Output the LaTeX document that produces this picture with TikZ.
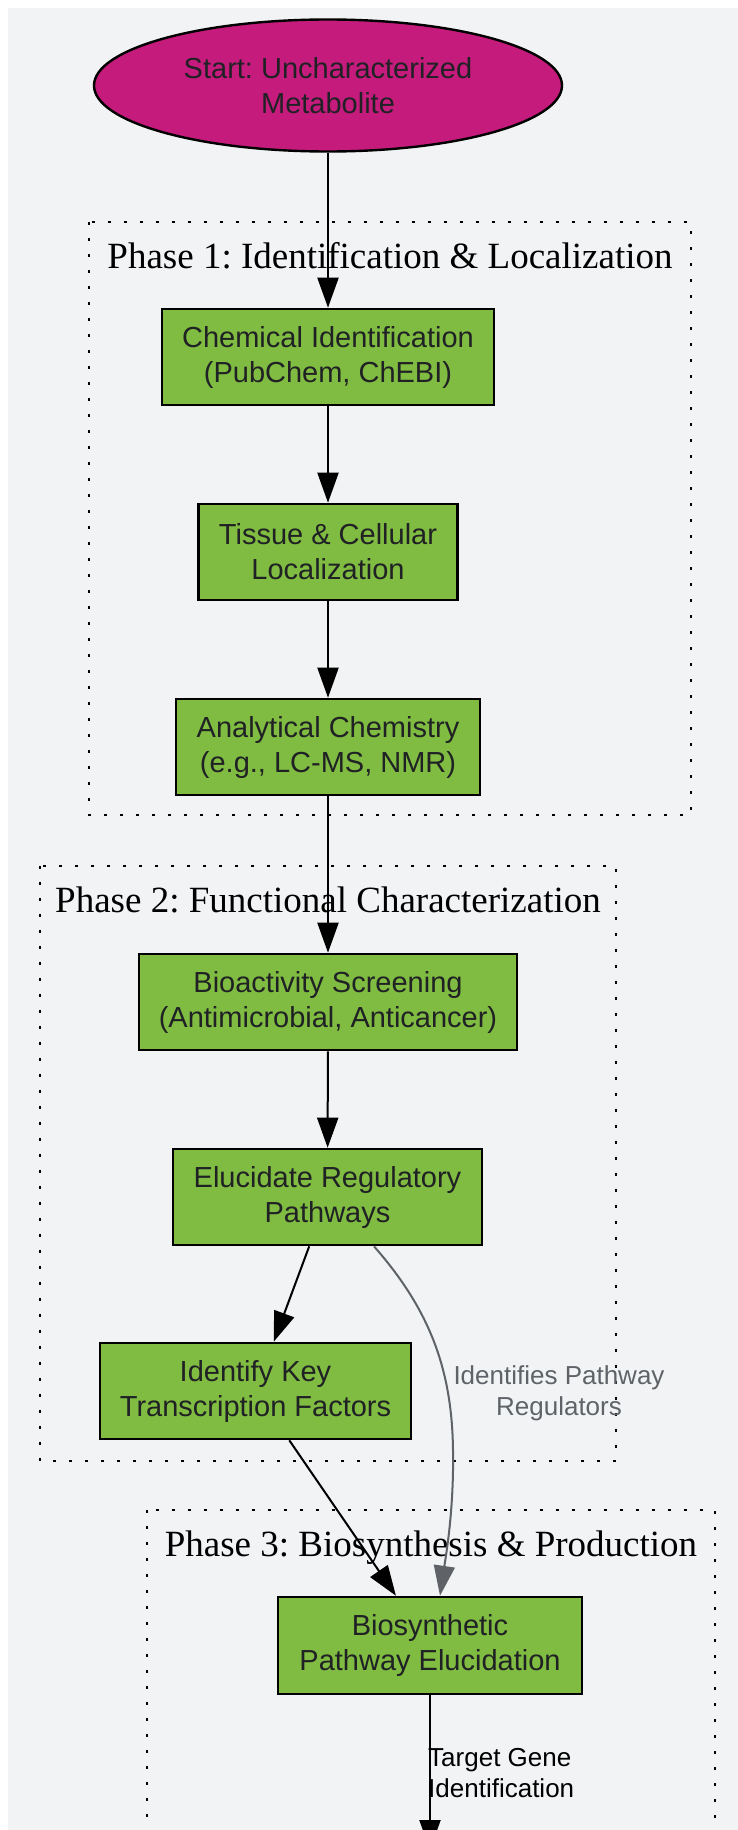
\documentclass[tikz,border=0pt]{standalone}
\usepackage{fontspec}
\setmainfont{Liberation Sans}
\newfontfamily\serifttl{Liberation Serif}
\usetikzlibrary{arrows.meta,shapes.geometric,calc}
\definecolor{bg}{HTML}{F1F3F4}
\definecolor{piyggreen}{HTML}{7FBC41}
\definecolor{piygpink}{HTML}{C51B7D}
\definecolor{edgegray}{HTML}{5F6368}
\definecolor{txt}{HTML}{202124}
\frenchspacing
\begin{document}
\begin{tikzpicture}[x=1pt,y=-1pt,
  stepbox/.style={draw=black, line width=2.6pt, fill=piyggreen, text=txt, align=center, inner sep=0pt, minimum height=96pt, font=\frenchspacing\fontsize{29}{35}\selectfont},
  startnode/.style={draw=black, line width=2.4pt, fill=piygpink, text=txt, ellipse, align=center, inner sep=0pt, minimum width=468pt, minimum height=132pt, font=\frenchspacing\fontsize{29}{35}\selectfont},
  cluster/.style={draw=black, line width=2.6pt, dash pattern=on 2.6pt off 13.4pt},
  phasetitle/.style={font=\frenchspacing\serifttl\fontsize{37}{44}\selectfont, anchor=base, inner sep=0pt},
  flow/.style={line width=2pt, draw=black, -{Triangle[length=30pt,width=21pt]}},
  grayflow/.style={line width=2pt, draw=edgegray, -{Triangle[length=30pt,width=21pt,fill=edgegray]}},
  elabel/.style={font=\frenchspacing\fontsize{26}{31}\selectfont, align=center, inner sep=0pt}
]
\useasboundingbox (0,0) rectangle (738,1830);
\clip (0,0) rectangle (738,1830);
\fill[white] (0,0) rectangle (738,1830);
\fill[bg] (8,8) rectangle (738,1830);

% clusters
\draw[cluster] (89,222) rectangle (691,815);
\draw[cluster] (40,866) rectangle (616,1461);
\draw[cluster] (147,1510) rectangle (715,1900);
\node[phasetitle] (t1) at (390,268) {Phase 1: Identification \& Localization};
\node[phasetitle] (t2) at (328,912) {Phase 2: Functional Characterization};
\node[phasetitle] (t3) at (431,1556) {Phase 3: Biosynthesis \& Production};

% nodes
\node[startnode] (start) at (328,85.5) {Start: Uncharacterized\\Metabolite};
\node[stepbox, minimum width=332pt] (n1) at (328,357) {Chemical Identification\\(PubChem, ChEBI)};
\node[stepbox, minimum width=259pt] (n2) at (328,552) {Tissue \& Cellular\\Localization};
\node[stepbox, minimum width=304pt] (n3) at (328,747) {Analytical Chemistry\\(e.g., LC-MS, NMR)};
\node[stepbox, minimum width=378pt] (n4) at (328,1002) {Bioactivity Screening\\(Antimicrobial, Anticancer)};
\node[stepbox, minimum width=309pt] (n5) at (327.5,1197) {Elucidate Regulatory\\Pathways};
\node[stepbox, minimum width=311pt] (n6) at (255.5,1391) {Identify Key\\Transcription Factors};
\node[stepbox, minimum width=304pt, minimum height=97pt] (n7) at (430,1645.5) {Biosynthetic\\Pathway Elucidation};
\coordinate (n8) at (430,1850);

% edges
\draw[flow] (start.south) -- (n1.north);
\draw[flow] (n1) -- (n2);
\draw[flow] (n2) -- (n3);
\draw[flow] (n3) -- (n4);
\draw[flow] (n4) -- (n5);
\draw[flow] (n5) -- (n6);
\draw[flow] (n6) -- (n7);
\draw[grayflow] ($(n5.south)+(46.5,0)$) .. controls (430,1310) and (452,1370) .. (453,1450)
   .. controls (454,1510) and (446,1555) .. ($(n7.north)+(10,0)$);
\node[elabel, text=edgegray] (l1) at (559,1393) {Identifies Pathway\\Regulators};
\draw[flow] (n7) -- (n8);
\node[elabel, anchor=west, align=left, text=black] (l2) at (428,1773) {Target Gene\\Identification};
\end{tikzpicture}
\end{document}
